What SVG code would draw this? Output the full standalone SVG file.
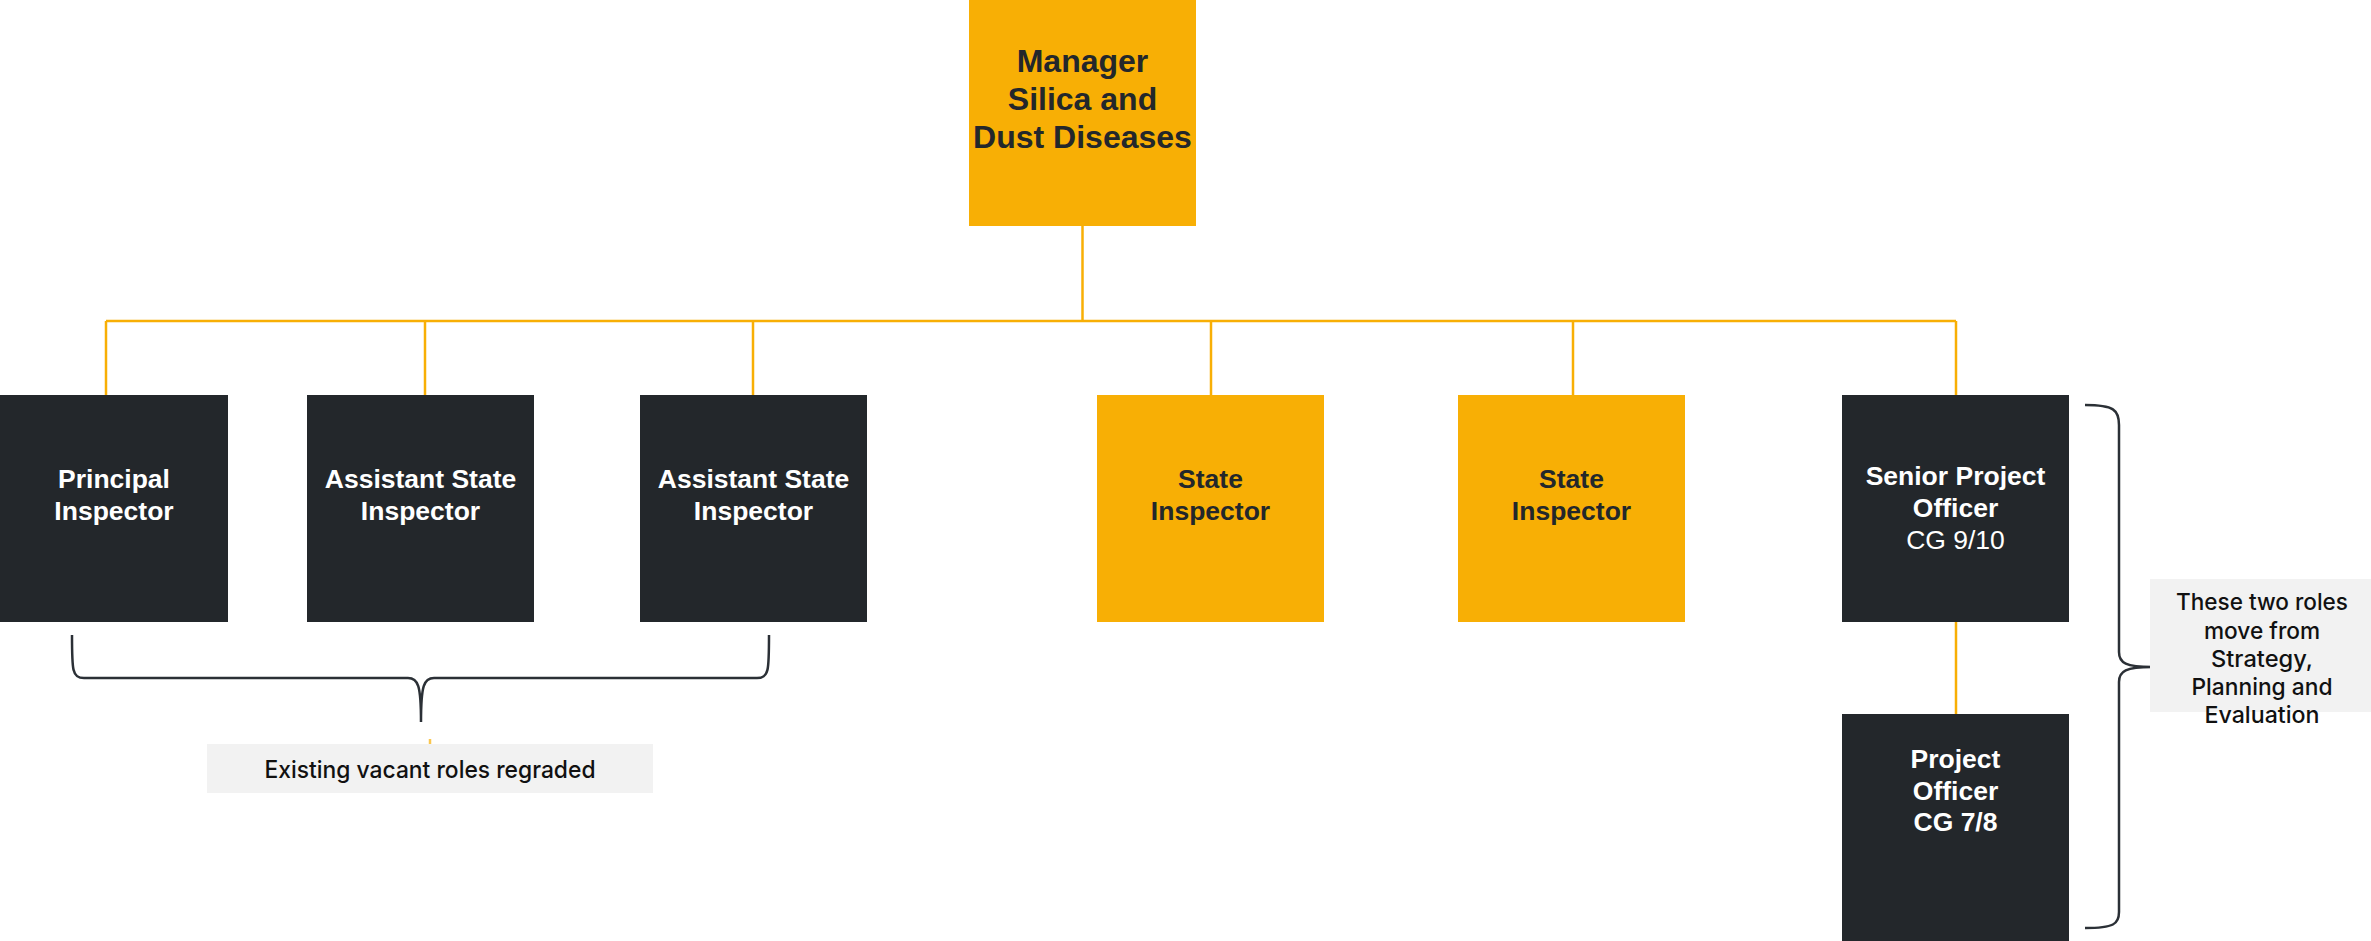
<svg xmlns="http://www.w3.org/2000/svg" width="2371" height="941" viewBox="0 0 2371 941">
<style>
.y{fill:#F8AF05}
.d{fill:#23272B}
.t{font-family:"Liberation Sans",Arial,sans-serif;font-weight:bold;font-size:26.5px;text-anchor:middle}
.tw{fill:#FFFFFF}
.tk{fill:#23272B}
.reg{font-weight:normal}
.conn{stroke:#F8AF05;stroke-width:2.5;fill:none}
.brace{stroke:#2B3036;stroke-width:2.5;fill:none}
.note{fill:#F2F2F2}
.nt{font-family:Inter,"Noto Sans",sans-serif;font-weight:500;fill:#111111;text-anchor:middle}
</style>
<rect width="2371" height="941" fill="#FFFFFF"/>
<g id="connectors">
<line class="conn" x1="1082.5" y1="226" x2="1082.5" y2="321"/>
<line class="conn" x1="106" y1="321" x2="1956" y2="321"/>
<line class="conn" x1="106" y1="321" x2="106" y2="395"/>
<line class="conn" x1="425" y1="321" x2="425" y2="395"/>
<line class="conn" x1="753" y1="321" x2="753" y2="395"/>
<line class="conn" x1="1211" y1="321" x2="1211" y2="395"/>
<line class="conn" x1="1573" y1="321" x2="1573" y2="395"/>
<line class="conn" x1="1956" y1="321" x2="1956" y2="395"/>
<line class="conn" x1="1956" y1="622" x2="1956" y2="714"/>
<line class="conn" x1="430" y1="739" x2="430" y2="744" stroke-opacity="0.7"/>
</g>
<g id="manager">
<rect class="y" x="969" y="0" width="227" height="226"/>
<text class="t tk" style="font-size:32px"><tspan x="1082.5" y="72">Manager</tspan><tspan x="1082.5" y="110">Silica and</tspan><tspan x="1082.5" y="148">Dust Diseases</tspan></text>
</g>
<g id="principal-inspector">
<rect class="d" x="0" y="395" width="228" height="227"/>
<text class="t tw"><tspan x="114" y="488">Principal</tspan><tspan x="114" y="520">Inspector</tspan></text>
</g>
<g id="assistant-state-inspector-1">
<rect class="d" x="307" y="395" width="227" height="227"/>
<text class="t tw"><tspan x="420.5" y="488">Assistant State</tspan><tspan x="420.5" y="520">Inspector</tspan></text>
</g>
<g id="assistant-state-inspector-2">
<rect class="d" x="640" y="395" width="227" height="227"/>
<text class="t tw"><tspan x="753.5" y="488">Assistant State</tspan><tspan x="753.5" y="520">Inspector</tspan></text>
</g>
<g id="state-inspector-1">
<rect class="y" x="1097" y="395" width="227" height="227"/>
<text class="t tk"><tspan x="1210.5" y="488">State</tspan><tspan x="1210.5" y="520">Inspector</tspan></text>
</g>
<g id="state-inspector-2">
<rect class="y" x="1458" y="395" width="227" height="227"/>
<text class="t tk"><tspan x="1571.5" y="488">State</tspan><tspan x="1571.5" y="520">Inspector</tspan></text>
</g>
<g id="senior-project-officer">
<rect class="d" x="1842" y="395" width="227" height="227"/>
<text class="t tw"><tspan x="1955.5" y="485">Senior Project</tspan><tspan x="1955.5" y="517">Officer</tspan><tspan class="reg" x="1955.5" y="549">CG 9/10</tspan></text>
</g>
<g id="project-officer">
<rect class="d" x="1842" y="714" width="227" height="227"/>
<text class="t tw"><tspan x="1955.5" y="768">Project</tspan><tspan x="1955.5" y="800">Officer</tspan><tspan x="1955.5" y="831">CG 7/8</tspan></text>
</g>
<g id="brace-existing">
<path class="brace" d="M72,635 C72,670 72,678 84,678 L408,678 C418,678 421,685 421,722 C421,685 424,678 434,678 L757,678 C769,678 769,670 769,635"/>
</g>
<g id="note-existing">
<rect class="note" x="207" y="744" width="446" height="49"/>
<text class="nt" x="430" y="778" font-size="24" textLength="331" lengthAdjust="spacingAndGlyphs">Existing vacant roles regraded</text>
</g>
<g id="brace-move">
<path class="brace" d="M2085,405 C2114,405 2119,410 2119,425 L2119,652 C2119,663 2126,667 2152,667 C2126,667 2119,671 2119,682 L2119,912 C2119,924 2114,928 2085,928"/>
</g>
<g id="note-move">
<rect class="note" x="2150" y="579" width="221" height="133"/>
<text class="nt" font-size="23"><tspan x="2262" y="610" textLength="172" lengthAdjust="spacingAndGlyphs">These two roles</tspan><tspan x="2262" y="639" textLength="116" lengthAdjust="spacingAndGlyphs">move from</tspan><tspan x="2262" y="667" textLength="102" lengthAdjust="spacingAndGlyphs">Strategy,</tspan><tspan x="2262" y="695" textLength="141" lengthAdjust="spacingAndGlyphs">Planning and</tspan><tspan x="2262" y="723" textLength="115" lengthAdjust="spacingAndGlyphs">Evaluation</tspan></text>
</g>
</svg>
